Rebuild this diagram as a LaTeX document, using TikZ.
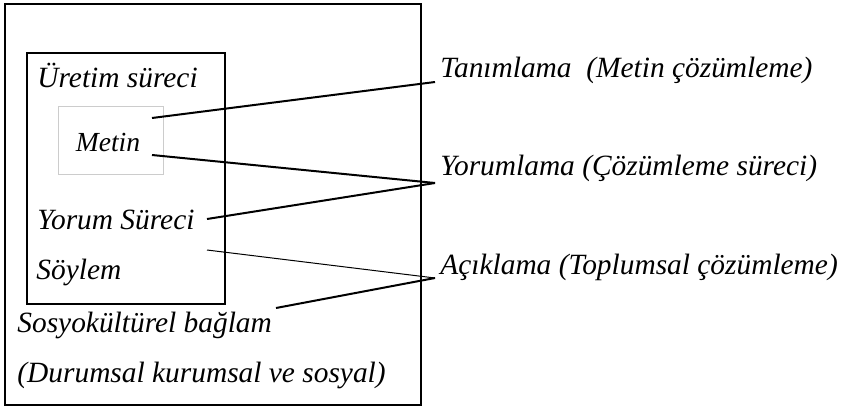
\documentclass[tikz,border=0pt]{standalone}
\usepackage{fontspec}
\setmainfont{Liberation Serif}
\usetikzlibrary{positioning}

\begin{document}
\begin{tikzpicture}[x=0.5pt,y=-0.5pt,
	lbl/.style={font=\fontsize{14.7}{16}\selectfont\itshape, inner sep=0pt, anchor=west},
	link/.style={line width=1pt}]
	\useasboundingbox (0,0) rectangle (841,407);
	% frames
	\draw[line width=1pt] (5,4) rectangle (421,405);
	\draw[line width=1pt] (27,53) rectangle (225,304);
	\draw[black!20, line width=0.5pt] (58,106) rectangle (163,174);
	% left texts
	\node[lbl] (uretim) at (37,75) {Üretim süreci};
	\node[lbl, anchor=center, font=\fontsize{13.8}{15}\selectfont\itshape] (metin) at (108,142) {Metin};
	\node[lbl] (yorum) at (37,220) {Yorum Süreci};
	\node[lbl] (soylem) at (36,272) {Söylem};
	\node[lbl] (baglam) at (17,325) {Sosyokültürel bağlam};
	\node[lbl] (durum) at (17,375) {(Durumsal kurumsal ve sosyal)};
	% right texts
	\node[lbl] (tanim) at (440,70) {Tanımlama\ \ (Metin çözümleme)};
	\node[lbl] (yorumla) at (440,168) {Yorumlama (Çözümleme süreci)};
	\node[lbl] (acikla) at (440,267) {Açıklama (Toplumsal çözümleme)};
	% line ends
	\coordinate (m1) at (152,118);
	\coordinate (m2) at (152,155);
	\coordinate (y1) at (207,219);
	\coordinate (y2) at (207,250);
	\coordinate (b1) at (276,308);
	\coordinate (t1) at (435,82);
	\coordinate (t2) at (435,183);
	\coordinate (t3) at (435,278);
	\path[link]
	(m1) edge (t1)
	(m2) edge (t2)
	(y1) edge (t2)
	(b1) edge (t3)
	;
	\path[line width=0.5pt]
	(y2) edge (t3)
	;
\end{tikzpicture}
\end{document}
